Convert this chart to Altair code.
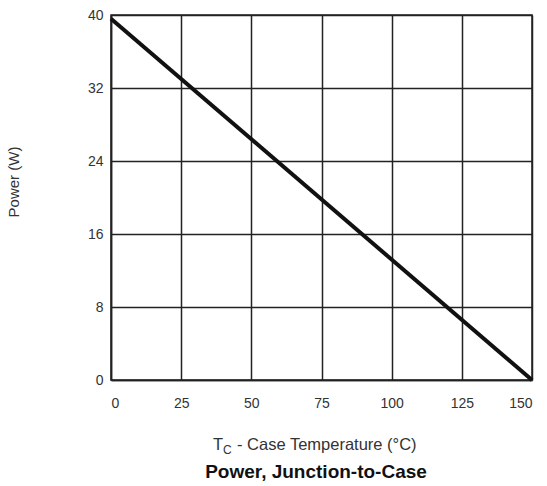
import altair as alt
import pandas as pd

# Derating line: case temperature (°C) vs. allowed power dissipation (W)
temp_c = [0, 150]
power_w = [39.6, 0]

x_ticks = [0, 25, 50, 75, 100, 125, 150]
y_ticks = [0, 8, 16, 24, 32, 40]

FONT = "Liberation Sans"
INK = "#222222"

df = pd.DataFrame({"temp": temp_c, "power": power_w})

PLOT_W, PLOT_H = 421, 365

line = alt.Chart(df).mark_line(color="#111111", strokeWidth=4, strokeCap="butt").encode(
    x=alt.X(
        "temp:Q",
        scale=alt.Scale(domain=[0, 150], nice=False, zero=False),
        axis=alt.Axis(
            values=x_ticks, title=None, grid=True, gridColor=INK, gridWidth=1.5,
            domainColor=INK, domainWidth=1.5, ticks=False, labelPadding=16,
            labelFont=FONT, labelFontSize=14, labelColor="#333333",
        ),
    ),
    y=alt.Y(
        "power:Q",
        scale=alt.Scale(domain=[0, 40], nice=False),
        axis=alt.Axis(
            values=y_ticks, title=None, grid=True, gridColor=INK, gridWidth=1.5,
            domainColor=INK, domainWidth=1.5, ticks=False, labelPadding=8,
            labelFont=FONT, labelFontSize=14, labelColor="#333333",
        ),
    ),
)

# Axis titles and caption drawn as text so the subscript can be set
y_title = alt.Chart().mark_text(
    text="Power  (W)", angle=270, font=FONT, fontSize=15, color="#333333",
    align="center", baseline="middle",
).encode(x=alt.value(-97), y=alt.value(167))

t_main = alt.Chart().mark_text(
    text="T", font=FONT, fontSize=16.5, color="#333333", align="left", baseline="alphabetic",
).encode(x=alt.value(102), y=alt.value(435))
t_sub = alt.Chart().mark_text(
    text="C", font=FONT, fontSize=12, color="#333333", align="left", baseline="alphabetic",
).encode(x=alt.value(112), y=alt.value(439))
t_rest = alt.Chart().mark_text(
    text="- Case Temperature (°C)", font=FONT, fontSize=16.5, color="#333333",
    align="left", baseline="alphabetic",
).encode(x=alt.value(126), y=alt.value(435))

caption = alt.Chart().mark_text(
    text="Power, Junction-to-Case", font=FONT, fontSize=19, fontWeight="bold",
    color="#111111", align="center", baseline="alphabetic",
).encode(x=alt.value(205), y=alt.value(463))

chart = alt.layer(line, y_title, t_main, t_sub, t_rest, caption).properties(
    width=PLOT_W,
    height=PLOT_H,
    autosize=alt.AutoSizeParams(type="none"),
    padding={"left": 111, "top": 15, "right": 15, "bottom": 106},
    background="white",
).configure_view(stroke=INK, strokeWidth=1.5)

chart.save("out.html", embed_options={"renderer": "svg", "actions": False})
